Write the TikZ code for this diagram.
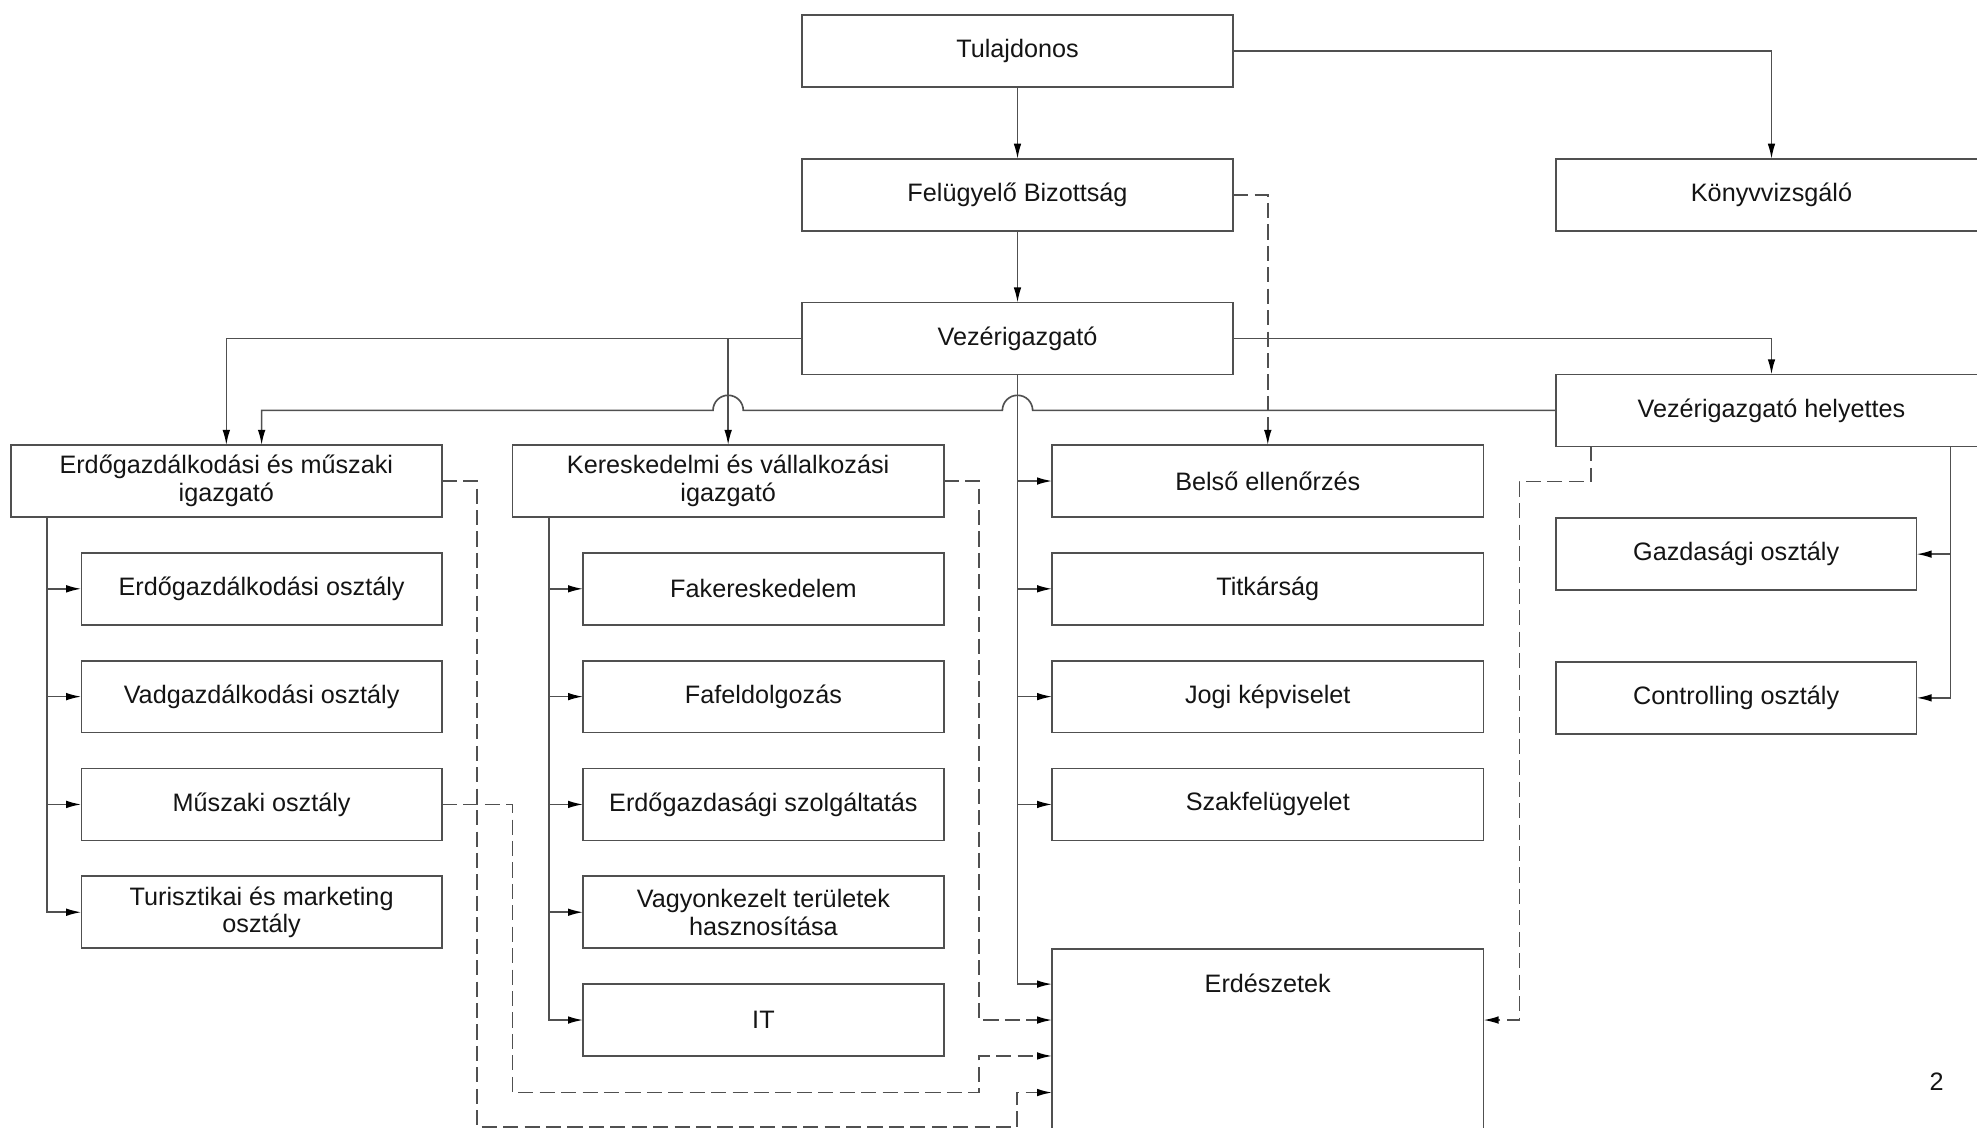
\documentclass[tikz,border=0pt]{standalone}
\usepackage{fontspec}
\setmainfont{Liberation Sans}
\usetikzlibrary{positioning,calc,arrows.meta}
\definecolor{linegray}{RGB}{80,80,80}
\definecolor{textgray}{RGB}{20,20,20}
\tikzset{
    box/.style={draw=linegray,line width=0.65pt,minimum width=171pt,minimum height=28.5pt,inner sep=0pt,outer sep=0pt,align=center,text=textgray,font=\fontsize{10}{11}\selectfont},
    dept/.style={box,minimum width=143pt},
    link/.style={draw=linegray,line width=0.65pt,-{Latex[length=6pt,width=3pt,color=black]}},
    dlink/.style={link,dash pattern=on 6pt off 2.5pt}
}
\begin{document}
\begin{tikzpicture}[x=0.5pt,y=-0.5pt]
    \useasboundingbox (0,0) rectangle (1568,894);
    \clip (0,0) rectangle (1568,894);
    \node[box] (tul) at (807,40.5) {Tulajdonos};
    \node[box,below=28.5pt of tul] (fb) {Felügyelő Bizottság};
    \node[box,below=28.5pt of fb] (vig) {Vezérigazgató};
    \node[box,right=128pt of fb] (kv) {Könyvvizsgáló};
    \node[box,below=57pt of kv] (vih) {Vezérigazgató helyettes};
    \node[box] (emi) at (179.5,381.5) {Erdőgazdálkodási és műszaki\\igazgató};
    \node[box,right=28pt of emi] (kvi) {Kereskedelmi és vállalkozási\\igazgató};
    \node[box,right=43pt of kvi] (bel) {Belső ellenőrzés};
    \node[box,below=14.25pt of bel] (tit) {Titkárság};
    \node[box,below=14.25pt of tit] (jog) {Jogi képviselet};
    \node[box,below=14.25pt of jog] (szak) {Szakfelügyelet};
    \node[box,below=43pt of szak,text height=17.5pt,text depth=110pt] (erd) {Erdészetek};
    \node[dept,below=14.25pt of emi.south east,anchor=north east] (ec1) {Erdőgazdálkodási osztály};
    \node[dept,below=14.25pt of ec1] (ec2) {Vadgazdálkodási osztály};
    \node[dept,below=14.25pt of ec2] (ec3) {Műszaki osztály};
    \node[dept,below=14.25pt of ec3] (ec4) {Turisztikai és marketing\\osztály};
    \node[dept,below=14.25pt of kvi.south east,anchor=north east] (kc1) {Fakereskedelem};
    \node[dept,below=14.25pt of kc1] (kc2) {Fafeldolgozás};
    \node[dept,below=14.25pt of kc2] (kc3) {Erdőgazdasági szolgáltatás};
    \node[dept,below=14.25pt of kc3] (kc4) {Vagyonkezelt területek\\hasznosítása};
    \node[dept,below=14.25pt of kc4] (kc5) {IT};
    \node[dept,below=28.5pt of vih.south west,anchor=north west] (gaz) {Gazdasági osztály};
    \node[dept,below=28.5pt of gaz] (con) {Controlling osztály};
    \node[text=textgray,font=\fontsize{10}{11}\selectfont] (pnum) at (1536,858) {2};
    \coordinate (emit) at ($(emi.south west)+(29,0)$);
    \coordinate (kvit) at ($(kvi.south west)+(29,0)$);
    \coordinate (viht) at ($(vih.south east)+(-29,0)$);
    \coordinate (vihd) at ($(vih.south west)+(28,0)$);
    \coordinate (erdin1) at ($(erd.north west)+(0,28)$);
    \coordinate (erdin3) at ($(erd.north west)+(0,85)$);
    \coordinate (erdin4) at ($(erd.north west)+(0,114)$);
    \draw[link] (tul) -- (fb);
    \draw[link] (fb) -- (vig);
    \draw[link] (tul.east) -| (kv.north);
    \draw[link] (vig.east) -| (vih.north);
    \draw[link] (vig.west) -| (emi.north);
    \draw[link] (vig.west -| kvi.north) -- (kvi.north);
    \draw[link] (vih.west) -- ($(vig.south |- vih.west)+(12,0)$) arc[start angle=0,end angle=180,radius=6pt] -- ($(kvi.north |- vih.west)+(12,0)$) arc[start angle=0,end angle=180,radius=6pt] -| (ec1.north |- emi.north);
    \foreach \n in {bel,tit,jog,szak} \draw[link] (vig.south) |- (\n.west);
    \draw[link] (vig.south) |- (erdin1);
    \foreach \n in {ec1,ec2,ec3,ec4} \draw[link] (emit) |- (\n.west);
    \foreach \n in {kc1,kc2,kc3,kc4,kc5} \draw[link] (kvit) |- (\n.west);
    \foreach \n in {gaz,con} \draw[link] (viht) |- (\n.east);
    \draw[dlink] (fb.east) -| (bel.north);
    \draw[dlink] (kvi.east) -- ++(28,0) |- (erd.west |- kc5);
    \draw[dlink] (ec3.east) -- ++(56,0) -- ++(0,228.5) -- ++(370,0) |- (erdin3);
    \draw[dlink] (emi.east) -- ++(28,0) -- ++(0,512.5) -- ++(428,0) |- (erdin4);
    \draw[dlink] (vihd) -- ++(0,28) -- ++(-57,0) |- (erd.east |- kc5);
\end{tikzpicture}
\end{document}
